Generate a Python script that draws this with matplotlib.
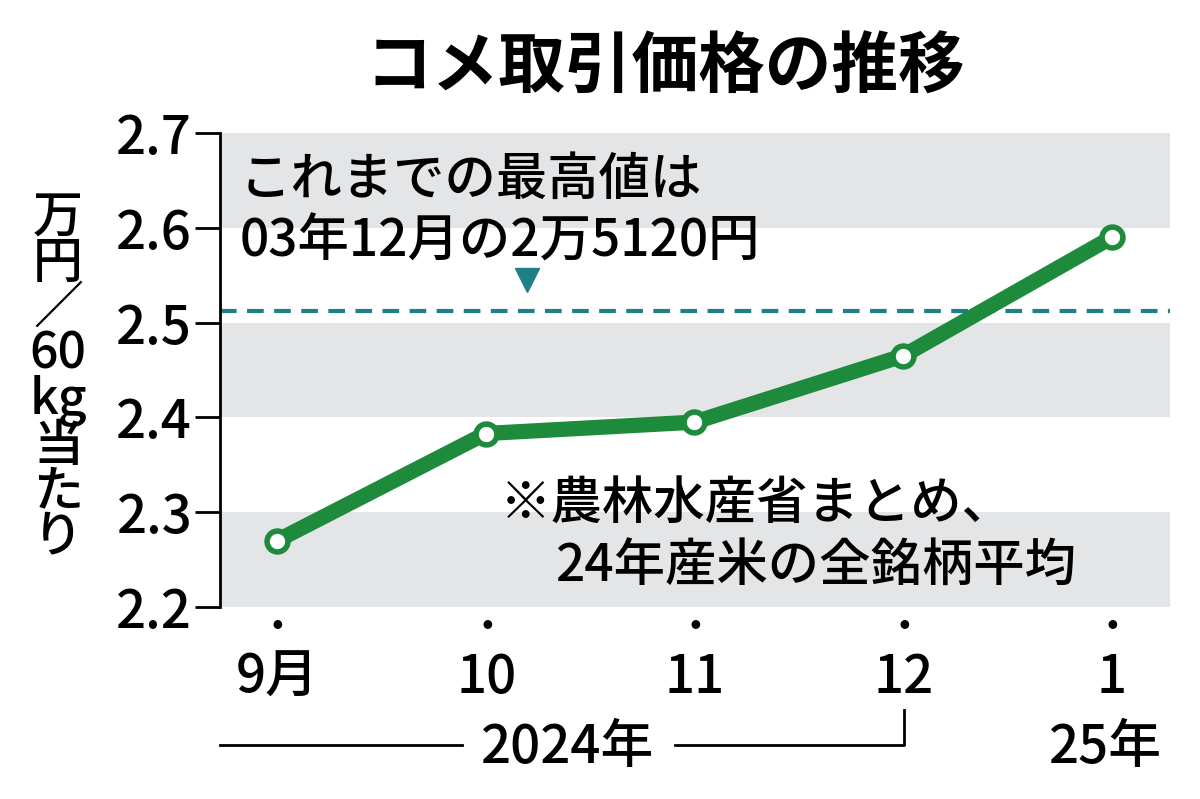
import matplotlib
matplotlib.use("Agg")
import matplotlib.pyplot as plt
from matplotlib.lines import Line2D

plt.rcParams['font.family'] = ['Noto Sans CJK JP', 'DejaVu Sans']

months = ['9月', '10', '11', '12', '1']
values = [2.27, 2.383, 2.395, 2.465, 2.59]
record = 2.512
yticks = [2.2, 2.3, 2.4, 2.5, 2.6, 2.7]

W, H = 1200, 799
fig = plt.figure(figsize=(W/100, H/100), dpi=100)
def fx(px): return px / W
def fy(py): return 1 - py / H

ax = fig.add_axes([fx(220), fy(607), fx(1170 - 220), (607 - 133) / H])
ax.set_xlim(-0.273, 4.278)
ax.set_ylim(2.2, 2.7)
for lo in [2.2, 2.4, 2.6]:
    ax.axhspan(lo, lo + 0.1, color='#e3e5e6', lw=0, zorder=0)
ax.axhline(record, color='#1f7f86', lw=3, ls=(0, (4, 2.5)), zorder=1)
x = list(range(len(values)))
ax.plot(x, values, color='#1d8a3c', lw=11, solid_capstyle='round', zorder=3)
ax.plot(x, values, 'o', ms=15, mfc='white', mec='#1d8a3c', mew=4, zorder=4)
ax.plot([1.2], [2.545], marker='v', ms=17, color='#1f7f86', zorder=4)

for s in ['top', 'right', 'bottom']:
    ax.spines[s].set_visible(False)
ax.spines['left'].set_linewidth(2)
ax.set_yticks(yticks)
ax.set_yticklabels([f'{v:.1f}' for v in yticks], fontsize=38, weight='medium')
ax.tick_params(axis='y', length=18, width=2, pad=2)
ax.set_xticks([])

fs = 37
fig.text(fx(240), fy(180), 'これまでの最高値は', fontsize=fs, va='center', ha='left', weight='medium')
fig.text(fx(240), fy(242), '03年12月の2万5120円', fontsize=fs, va='center', ha='left', weight='medium')
fig.text(fx(500), fy(505), '※農林水産省まとめ、', fontsize=fs, va='center', ha='left', weight='medium')
fig.text(fx(555), fy(567), '24年産米の全銘柄平均', fontsize=fs, va='center', ha='left', weight='medium')

fig.text(fx(665), fy(68), 'コメ取引価格の推移', fontsize=48, weight='bold', ha='center', va='center')
fig.text(fx(58), fy(378), '万\n円\n／\n60\nkg\n当\nた\nり', fontsize=36, ha='center', va='center', linespacing=0.88, weight='medium')

xpix = [277, 487, 695, 904, 1112]
for px, lab in zip(xpix, months):
    fig.text(fx(px), fy(625), '●', fontsize=7, ha='center', va='center')
    fig.text(fx(px), fy(678), lab, fontsize=38, ha='center', va='center', weight='medium')
fig.text(fx(568), fy(748), '2024年', fontsize=38, ha='center', va='center', weight='medium')
fig.text(fx(1105), fy(748), '25年', fontsize=38, ha='center', va='center', weight='medium')
fig.add_artist(Line2D([fx(220), fx(462)], [fy(745), fy(745)], color='black', lw=2))
fig.add_artist(Line2D([fx(675), fx(904), fx(904)], [fy(745), fy(745), fy(710)], color='black', lw=2))

fig.savefig('out.png', dpi=100)
